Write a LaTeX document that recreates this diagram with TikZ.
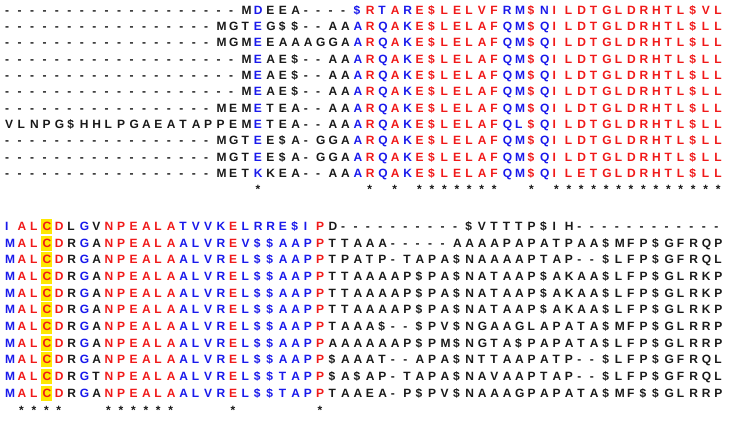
\documentclass[tikz,border=0pt]{standalone}
\usepackage{fontspec}
\setmainfont{Liberation Sans}
\definecolor{ck}{RGB}{25,25,25}
\definecolor{cb}{RGB}{25,25,235}
\definecolor{cr}{RGB}{240,25,25}
\definecolor{hl}{RGB}{255,232,0}
\newcommand\seqcell[2]{\makebox[12.44pt][l]{\color{c#2}\if S#1\$\else #1\fi}}
\def\seqproc#1#2\seqsep#3#4\seqstop{\seqcell{#1}{#3}\ifx\relax#2\relax\else\seqproc#2\seqsep#4\seqstop\fi}
\newcommand\seqrow[2]{\edef\tmpseq{\noexpand\seqproc#1\noexpand\seqsep#2\noexpand\seqstop}\tmpseq}
\def\colA{kkkkkkkkkkkkkkkkkkkkbkkkkkkkbrbrbrrrrrrrbbrbrrrrrrrrrrrrrr}
\def\colB{brrrrkbkrrrrrrbbbbrbbbbbbrkkkkkkkkkkkkkkkkkkkkkkkkkkkkkkkk}
\begin{document}
\begin{tikzpicture}[x=1pt,y=1pt,
  seqline/.style={anchor=base west,inner sep=0pt,font=\fontsize{12}{12}\selectfont\bfseries},
  starmark/.style={anchor=base west,inner sep=0pt,font=\fontsize{12}{12}\selectfont\bfseries,text=ck},
  hlbox/.style={fill=hl,draw=none}]
\useasboundingbox (0,0) rectangle (729,-426);
\def\xo{5}
\def\pw{12.44}
\def\ya{14.3}
\def\dya{16.3}
\def\yb{230.3}
\def\dyb{16.7}
% yellow highlight of the C column in block 2
\foreach \i in {0,...,10}
  \path[hlbox] ({\xo+3*\pw-1},{-(\yb+\i*\dyb)+11.5}) rectangle ({\xo+3*\pw+9.8},{-(\yb+\i*\dyb)-3.5});
% block 1
\foreach \s [count=\i from 0] in {
-------------------MDEEA----SRTARESLELVFRMSNILDTGLDRHTLSVL,
-----------------MGTEGSS--AAARQAKESLELAFQMSQILDTGLDRHTLSLL,
-----------------MGMEEAAAGGAARQAKESLELAFQMSQILDTGLDRHTLSLL,
-------------------MEAES--AAARQAKESLELAFQMSQILDTGLDRHTLSLL,
-------------------MEAES--AAARQAKESLELAFQMSQILDTGLDRHTLSLL,
-------------------MEAES--AAARQAKESLELAFQMSQILDTGLDRHTLSLL,
-----------------MEMETEA--AAARQAKESLELAFQMSQILDTGLDRHTLSLL,
VLNPGSHHLPGAEATAPPEMETEA--AAARQAKESLELAFQLSQILDTGLDRHTLSLL,
-----------------MGTEESA-GGAARQAKESLELAFQMSQILDTGLDRHTLSLL,
-----------------MGTEESA-GGAARQAKESLELAFQMSQILDTGLDRHTLSLL,
-----------------METKKEA--AAARQAKESLELAFQMSQILETGLDRHTLSLL}
  \node[seqline] (a\i) at (\xo,{-(\ya+\i*\dya)}) {\seqrow{\s}{\colA}};
\foreach \c in {20,29,31,33,34,35,36,37,38,39,42,44,45,46,47,48,49,50,51,52,53,54,55,56,57}
  \node[starmark] (sa\c) at ({\xo+\c*\pw+1.5},{-(\ya+11*\dya)}) {*};
% block 2
\foreach \s [count=\i from 0] in {
IALCDLGVNPEALATVVKELRRESIPD----------SVTTTPSIH------------,
MALCDRGANPEALAALVREVSSAAPPTTAAA-----AAAAPAPATPAASMFPSGFRQP,
MALCDRGANPEALAALVRELSSAAPPTPATP-TAPASNAAAAPTAP--SLFPSGFRQL,
MALCDRGANPEALAALVRELSSAAPPTTAAAAPSPASNATAAPSAKAASLFPSGLRKP,
MALCDRGANPEALAALVRELSSAAPPTTAAAAPSPASNATAAPSAKAASLFPSGLRKP,
MALCDRGANPEALAALVRELSSAAPPTTAAAAPSPASNATAAPSAKAASLFPSGLRKP,
MALCDRGANPEALAALVRELSSAAPPTAAAS--SPVSNGAAGLAPATASMFPSGLRRP,
MALCDRGANPEALAALVRELSSAAPPAAAAAAPSPMSNGTASPAPATASLFPSGLRRP,
MALCDRGANPEALAALVRELSSAAPPSAAAT--APASNTTAAPATP--SLFPSGFRQL,
MALCDRGTNPEALAALVRELSSTAPPSASAP-TAPASNAVAAPTAP--SLFPSGFRQL,
MALCDRGANPEALAALVRELSSTAPPTAAEA-PSPVSNAAAGPAPATASMFSSGLRRP}
  \node[seqline] (b\i) at (\xo,{-(\yb+\i*\dyb)}) {\seqrow{\s}{\colB}};
\foreach \c in {1,2,3,4,8,9,10,11,12,13,18,25}
  \node[starmark] (sb\c) at ({\xo+\c*\pw+1.5},{-(\yb+11*\dyb)}) {*};
\end{tikzpicture}
\end{document}
